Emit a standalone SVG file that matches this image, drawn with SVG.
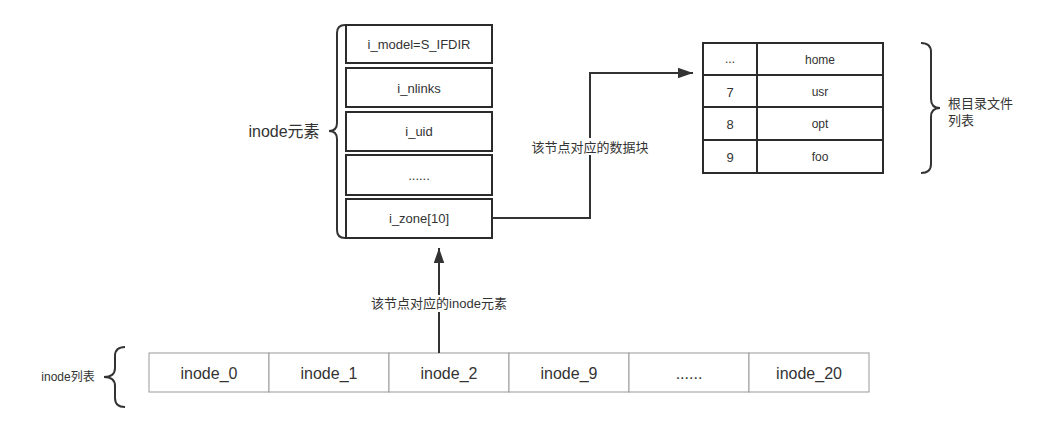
<svg xmlns="http://www.w3.org/2000/svg" width="1047" height="423" viewBox="0 0 1047 423">
<style>
text{font-family:"Liberation Sans","Noto Sans CJK SC",sans-serif;fill:#333;text-anchor:middle;dominant-baseline:central}
.box{fill:#fff;stroke:#2b2b2b;stroke-width:2}
.cell{fill:#fff;stroke:#999;stroke-width:1}
.brace{fill:none;stroke:#333;stroke-width:2}
.conn{fill:none;stroke:#333;stroke-width:2}
.f13{font-size:13px}
.f12{font-size:12px}
.f16{font-size:16px}
</style>
<defs>
<marker id="arr" viewBox="0 0 10 10" refX="10" refY="5" markerWidth="8" markerHeight="8" markerUnits="userSpaceOnUse" orient="auto">
<path d="M0,0 L10,5 L0,10 Z" fill="#333"/>
</marker>
<marker id="arrL" viewBox="0 0 10 10" refX="10" refY="5" markerWidth="15" markerHeight="15" markerUnits="userSpaceOnUse" orient="auto">
<path d="M0,1.5 L10,5 L0,8.5 Z" fill="#333"/>
</marker>
</defs>
<rect width="1047" height="423" fill="#fff"/>

<g id="inode-element">
<rect class="box" x="346" y="25" width="146" height="38"/><text class="f13" x="419" y="44">i_model=S_IFDIR</text>
<rect class="box" x="346" y="68" width="146" height="39"/><text class="f13" x="419" y="88">i_nlinks</text>
<rect class="box" x="346" y="112" width="146" height="39"/><text class="f13" x="419" y="131">i_uid</text>
<rect class="box" x="346" y="155" width="146" height="40"/><text class="f13" x="419" y="175">......</text>
<rect class="box" x="346" y="199" width="146" height="39"/><text class="f13" x="419" y="218">i_zone[10]</text>
</g>

<g id="inode-element-label">
<path class="brace" d="M345,25 Q337,25 337,33 L337,123 Q337,131 329,131 Q337,131 337,139 L337,230 Q337,238 345,238"/>
<text x="284" y="131" style="font-size:16px">inode元素</text>
</g>

<g id="dir-table">
<rect class="box" x="703" y="43" width="180" height="32"/>
<rect class="box" x="703" y="75" width="180" height="32"/>
<rect class="box" x="703" y="107" width="180" height="33"/>
<rect class="box" x="703" y="140" width="180" height="33"/>
<line x1="757" y1="43" x2="757" y2="173" stroke="#2b2b2b" stroke-width="2"/>
<text class="f12" x="730" y="59" fill="#666">...</text><text class="f12" x="820" y="60">home</text>
<text class="f13" x="730" y="92">7</text><text class="f12" x="820" y="92">usr</text>
<text class="f13" x="730" y="124">8</text><text class="f12" x="820" y="124">opt</text>
<text class="f13" x="730" y="157">9</text><text class="f12" x="820" y="157">foo</text>
</g>

<g id="dir-label">
<path class="brace" d="M921,43 Q931,43 931,52 L931,99 Q931,108 940,108 Q931,108 931,117 L931,164 Q931,173 921,173"/>
<text class="f13" x="948" y="103" style="text-anchor:start">根目录文件</text>
<text class="f13" x="948" y="120" style="text-anchor:start">列表</text>
</g>

<g id="inode-list">
<rect class="cell" x="149" y="353" width="120" height="39"/><text class="f16" x="209" y="373">inode_0</text>
<rect class="cell" x="269" y="353" width="120" height="39"/><text class="f16" x="329" y="373">inode_1</text>
<rect class="cell" x="389" y="353" width="120" height="39"/><text class="f16" x="449" y="373">inode_2</text>
<rect class="cell" x="509" y="353" width="120" height="39"/><text class="f16" x="569" y="373">inode_9</text>
<rect class="cell" x="629" y="353" width="120" height="39"/><text class="f16" x="689" y="373">......</text>
<rect class="cell" x="749" y="353" width="120" height="39"/><text class="f16" x="809" y="373">inode_20</text>
</g>

<g id="inode-list-label">
<path class="brace" d="M125,347 Q115,347 115,356 L115,368 Q115,377 104,377 Q115,377 115,386 L115,398 Q115,407 125,407"/>
<text class="f12" x="68" y="377">inode列表</text>
</g>

<g id="connectors">
<path class="conn" d="M492,218 L590,218 L590,73 L693,73" marker-end="url(#arrL)"/>
<path class="conn" d="M439,353 L439,248" marker-end="url(#arrL)"/>
<rect x="532" y="138" width="117" height="17" fill="#fff"/>
<text class="f13" x="590" y="147">该节点对应的数据块</text>
<rect x="371" y="295" width="137" height="17" fill="#fff"/>
<text class="f13" x="439" y="303">该节点对应的inode元素</text>
</g>
</svg>
